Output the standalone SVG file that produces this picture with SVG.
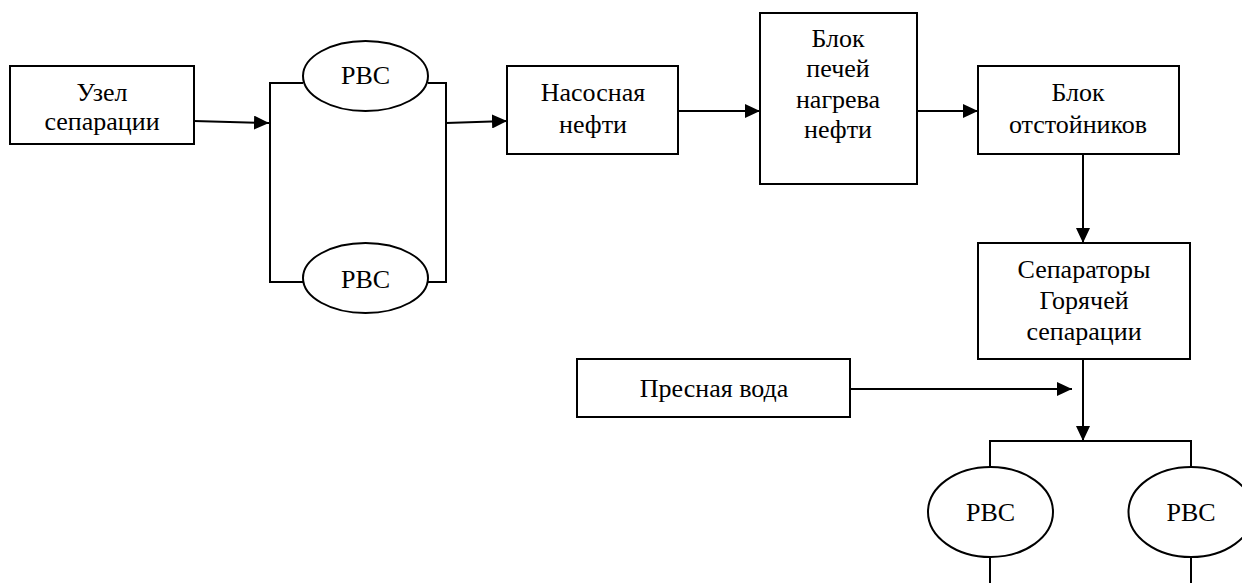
<svg xmlns="http://www.w3.org/2000/svg" width="1242" height="583" viewBox="0 0 1242 583">
  <style>
    .box { fill: #fff; stroke: #000; stroke-width: 2; }
    .tank { fill: #fff; stroke: #000; stroke-width: 2; }
    .lbl { font-family: "Liberation Serif", "Times New Roman", serif; font-size: 26px; fill: #000; text-anchor: middle; }
    .line { fill: none; stroke: #000; stroke-width: 2; }
    .flow { fill: none; stroke: #000; stroke-width: 2; marker-end: url(#arrow); }
  </style>
  <defs>
    <marker id="arrow" markerUnits="userSpaceOnUse" markerWidth="15" markerHeight="14" refX="15" refY="7" orient="auto">
      <path d="M0,0 L15,7 L0,14 z" fill="#000"/>
    </marker>
  </defs>
  <rect width="1242" height="583" fill="#fff"/>

  <!-- connectors -->
  <g id="connectors">
    <path class="line" d="M303,83 H270 V282 H303"/>
    <path class="line" d="M428,83 H446 V282 H428"/>
    <path class="flow" d="M194,121 L269,123"/>
    <path class="flow" d="M446,123 L507,121"/>
    <path class="flow" d="M678,111 H760"/>
    <path class="flow" d="M917,111 H978"/>
    <path class="flow" d="M1083,154 V243"/>
    <path class="flow" d="M850,389 H1072"/>
    <path class="flow" d="M1083,359 V441"/>
    <path class="line" d="M990,467 V441 H1191 V467"/>
    <path class="line" d="M990,557 V583"/>
    <path class="line" d="M1191,557 V583"/>
  </g>

  <g id="separation-unit">
    <rect class="box" x="10" y="66" width="184" height="78"/>
    <text class="lbl" x="102" y="101">Узел</text>
    <text class="lbl" x="102" y="130">сепарации</text>
  </g>

  <g id="tank-1">
    <ellipse class="tank" cx="365.5" cy="76" rx="62.5" ry="35"/>
    <text class="lbl" x="365.5" y="84">РВС</text>
  </g>

  <g id="tank-2">
    <ellipse class="tank" cx="365.5" cy="278" rx="62.5" ry="35"/>
    <text class="lbl" x="365.5" y="288">РВС</text>
  </g>

  <g id="pump-station">
    <rect class="box" x="507" y="66" width="171" height="88"/>
    <text class="lbl" x="593" y="101">Насосная</text>
    <text class="lbl" x="593" y="133">нефти</text>
  </g>

  <g id="heater-block">
    <rect class="box" x="760" y="13" width="157" height="171"/>
    <text class="lbl" x="838" y="47">Блок</text>
    <text class="lbl" x="838" y="77">печей</text>
    <text class="lbl" x="838" y="108">нагрева</text>
    <text class="lbl" x="838" y="138">нефти</text>
  </g>

  <g id="settler-block">
    <rect class="box" x="978" y="66" width="201" height="88"/>
    <text class="lbl" x="1078" y="101">Блок</text>
    <text class="lbl" x="1078" y="133">отстойников</text>
  </g>

  <g id="hot-separators">
    <rect class="box" x="978" y="243" width="212" height="116"/>
    <text class="lbl" x="1084" y="278">Сепараторы</text>
    <text class="lbl" x="1084" y="309">Горячей</text>
    <text class="lbl" x="1084" y="340">сепарации</text>
  </g>

  <g id="fresh-water">
    <rect class="box" x="577" y="359" width="273" height="58"/>
    <text class="lbl" x="714" y="397">Пресная вода</text>
  </g>

  <g id="tank-3">
    <ellipse class="tank" cx="990.5" cy="512" rx="62.5" ry="45"/>
    <text class="lbl" x="990.5" y="521">РВС</text>
  </g>

  <g id="tank-4">
    <ellipse class="tank" cx="1191" cy="512" rx="62.5" ry="45"/>
    <text class="lbl" x="1191" y="521">РВС</text>
  </g>
</svg>
